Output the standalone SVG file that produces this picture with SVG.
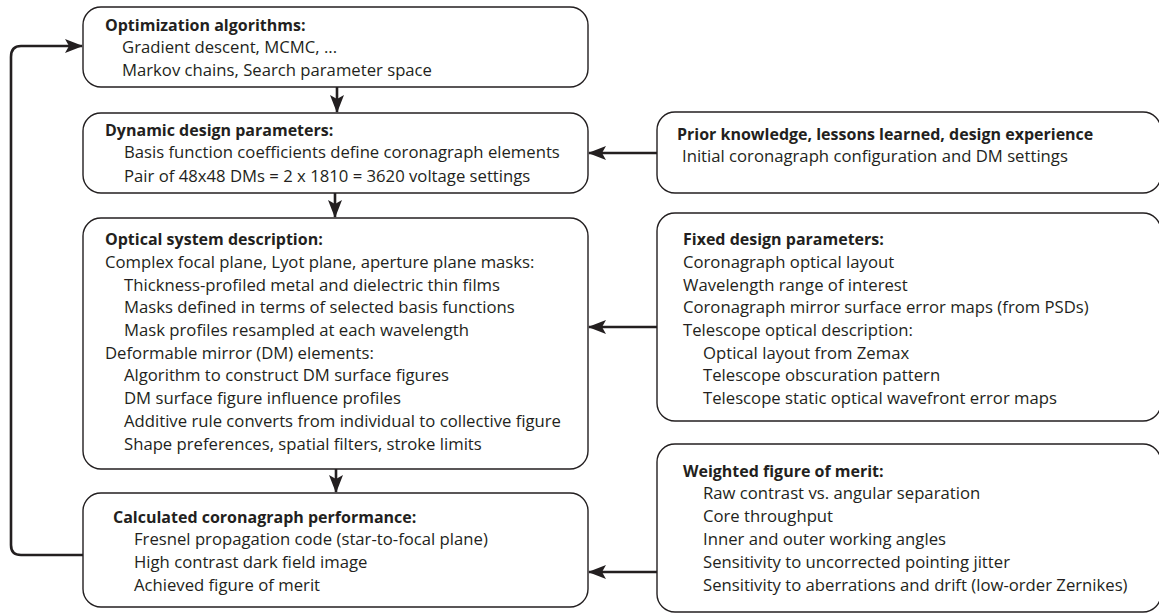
<svg xmlns="http://www.w3.org/2000/svg" width="1159" height="613" viewBox="0 0 1159 613">
<style>
.box{fill:#fff;stroke:#231f20;stroke-width:1.4}
.t{font-family:"Open Sans","Liberation Sans",sans-serif;font-size:16.7px;fill:#231f20}
.b{font-weight:bold;font-size:16px}
.c{fill:none;stroke:#231f20;stroke-width:2.6}
</style>
<defs>
<marker id="ah" markerUnits="userSpaceOnUse" markerWidth="18" markerHeight="16" viewBox="0 0 18 16" refX="17" refY="8" orient="auto">
<path d="M0,1 L18,8 L0,15 L4,8 Z" fill="#231f20"/>
</marker>
</defs>
<rect width="1159" height="613" fill="#fff"/>
<g id="connectors">
<line class="c" x1="337" y1="87" x2="337" y2="112" marker-end="url(#ah)"/>
<line class="c" x1="335" y1="193" x2="335" y2="217" marker-end="url(#ah)"/>
<line class="c" x1="336" y1="469" x2="336" y2="492" marker-end="url(#ah)"/>
<path class="c" d="M83,555 L21,555 Q11,555 11,545 L11,57 Q11,46 21,46 L82,46" marker-end="url(#ah)"/>
<line class="c" x1="657" y1="153" x2="589" y2="153" marker-end="url(#ah)"/>
<line class="c" x1="657" y1="327" x2="589" y2="327" marker-end="url(#ah)"/>
<line class="c" x1="657" y1="572" x2="589" y2="572" marker-end="url(#ah)"/>
</g>
<g id="opt">
<rect class="box" x="83" y="7" width="505" height="80" rx="18"/>
<text class="t b" x="105" y="31">Optimization algorithms:</text>
<text class="t" x="122" y="53">Gradient descent, MCMC, ...</text>
<text class="t" x="122" y="76">Markov chains, Search parameter space</text>
</g>
<g id="dyn">
<rect class="box" x="83" y="113" width="505" height="80" rx="18"/>
<text class="t b" x="105" y="136">Dynamic design parameters:</text>
<text class="t" x="124" y="158">Basis function coefficients define coronagraph elements</text>
<text class="t" x="124" y="182">Pair of 48x48 DMs = 2 x 1810 = 3620 voltage settings</text>
</g>
<g id="optical">
<rect class="box" x="83" y="218" width="505" height="251" rx="18"/>
<text class="t b" x="105" y="245">Optical system description:</text>
<text class="t" x="105" y="268">Complex focal plane, Lyot plane, aperture plane masks:</text>
<text class="t" x="124" y="291">Thickness-profiled metal and dielectric thin films</text>
<text class="t" x="124" y="313">Masks defined in terms of selected basis functions</text>
<text class="t" x="124" y="336">Mask profiles resampled at each wavelength</text>
<text class="t" x="105" y="359">Deformable mirror (DM) elements:</text>
<text class="t" x="124" y="381">Algorithm to construct DM surface figures</text>
<text class="t" x="124" y="404">DM surface figure influence profiles</text>
<text class="t" x="124" y="427">Additive rule converts from individual to collective figure</text>
<text class="t" x="124" y="450">Shape preferences, spatial filters, stroke limits</text>
</g>
<g id="calc">
<rect class="box" x="83" y="493" width="505" height="114" rx="18"/>
<text class="t b" x="113" y="523">Calculated coronagraph performance:</text>
<text class="t" x="134" y="545">Fresnel propagation code (star-to-focal plane)</text>
<text class="t" x="134" y="568">High contrast dark field image</text>
<text class="t" x="134" y="591">Achieved figure of merit</text>
</g>
<g id="prior">
<rect class="box" x="657" y="112" width="504" height="81" rx="18"/>
<text class="t b" x="677" y="140">Prior knowledge, lessons learned, design experience</text>
<text class="t" x="682" y="162">Initial coronagraph configuration and DM settings</text>
</g>
<g id="fixed">
<rect class="box" x="657" y="213" width="504" height="208" rx="18"/>
<text class="t b" x="683" y="245">Fixed design parameters:</text>
<text class="t" x="683" y="268">Coronagraph optical layout</text>
<text class="t" x="683" y="291">Wavelength range of interest</text>
<text class="t" x="683" y="313">Coronagraph mirror surface error maps (from PSDs)</text>
<text class="t" x="683" y="336">Telescope optical description:</text>
<text class="t" x="703" y="359">Optical layout from Zemax</text>
<text class="t" x="703" y="381">Telescope obscuration pattern</text>
<text class="t" x="703" y="404">Telescope static optical wavefront error maps</text>
</g>
<g id="weighted">
<rect class="box" x="657" y="444" width="504" height="168" rx="18"/>
<text class="t b" x="683" y="477">Weighted figure of merit:</text>
<text class="t" x="703" y="499">Raw contrast vs. angular separation</text>
<text class="t" x="703" y="522">Core throughput</text>
<text class="t" x="703" y="545">Inner and outer working angles</text>
<text class="t" x="703" y="568">Sensitivity to uncorrected pointing jitter</text>
<text class="t" x="703" y="591">Sensitivity to aberrations and drift (low-order Zernikes)</text>
</g>
</svg>
